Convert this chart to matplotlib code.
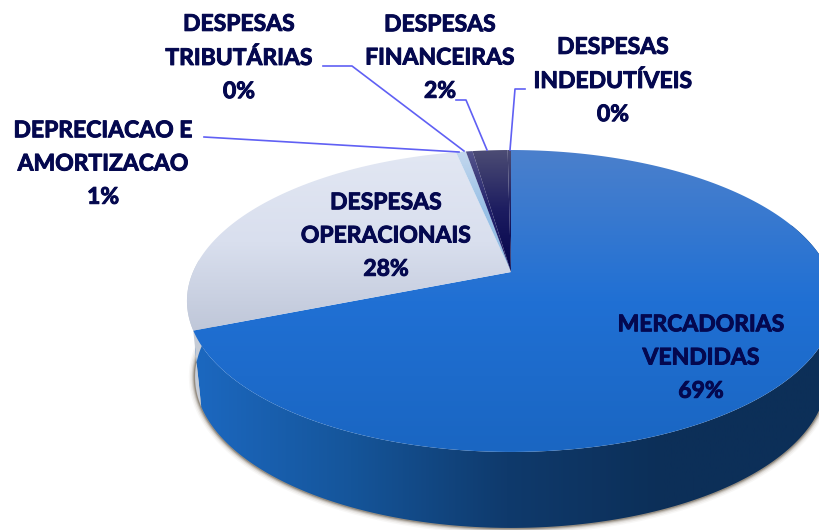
import matplotlib
matplotlib.use("Agg")
import matplotlib.pyplot as plt
from matplotlib import patheffects
from matplotlib.colors import LinearSegmentedColormap
from matplotlib.patches import Polygon
import numpy as np

plt.rcParams['font.family'] = ['Lato', 'DejaVu Sans']

names = ["MERCADORIAS\nVENDIDAS", "DESPESAS\nOPERACIONAIS", "DEPRECIACAO E\nAMORTIZACAO",
         "DESPESAS\nTRIBUTÁRIAS", "DESPESAS\nFINANCEIRAS", "DESPESAS\nINDEDUTÍVEIS"]
values = [68.9, 27.8, 0.6, 0.4, 2.1, 0.2]

# top, middle and bottom colour of each slice
face_colors = [["#4b80cc", "#2070d4", "#1a66c2"], ["#e2e7f3", "#d9dfee", "#bec6d8"],
               ["#c4d8ee", "#98c0e6", "#98c0e6"], ["#55558c", "#20206a", "#20206a"],
               ["#4c4c74", "#1c1c60", "#03034a"], ["#4c4c74", "#1c1c60", "#03034a"]]
label_pos = [(701, 358), (386, 236), (103, 164), (239, 58), (440, 58), (613, 81)]
leaders = [None, None,
           [(204, 137), (459, 152)],
           [(323, 66), (352, 66), (464, 151)],
           [(456, 100), (466, 100), (487, 150)],
           [(525, 89), (515, 89), (510, 150)]]

CX, CY = 511, 272
A, B, K = 318, 145.4, 0.192
DEPTH = 76
SHRINK = 0.975
TEXT = "#04084f"
LINE = "#6060f4"


def top_xy(theta):
    # clockwise from 12 o'clock, perspective view of the disc
    u, v = np.sin(theta), np.cos(theta)
    w = 1 + K * v
    return CX + A * u / w, CY - B * v / w


def bottom_xy(theta):
    x, y = top_xy(theta)
    return CX + SHRINK * (x - CX), y + DEPTH


def wall_band(t):
    x0, y0 = top_xy(t)
    x1, y1 = bottom_xy(t[::-1])
    return np.column_stack([np.r_[x0, x1], np.r_[y0, y1]])


fig = plt.figure(figsize=(8.19, 5.3), dpi=100)
ax = fig.add_axes([0, 0, 1, 1])

edges = np.deg2rad(np.concatenate([[0], np.cumsum(values)]) * 3.6)

# soft shadow under the wall
t = np.linspace(np.deg2rad(85), np.deg2rad(278), 300)
sx, sy = bottom_xy(t)
for lw, alpha in [(9, 0.04), (7, 0.07), (5, 0.12), (3.5, 0.2), (2, 0.35)]:
    ax.plot(sx, sy, color="#4f4230", lw=lw, alpha=alpha, solid_capstyle="round", zorder=1)

# blue wall, darkens to the right
wall_cmap = LinearSegmentedColormap.from_list(
    "wall", ["#1c68c0", "#15559a", "#0f3a6c", "#0c2f58", "#0c2f58"])
wall = Polygon(wall_band(np.linspace(np.deg2rad(70), edges[1], 200)),
               facecolor="none", edgecolor="none", zorder=2)
ax.add_patch(wall)
im = ax.imshow(np.linspace(0, 1, 256).reshape(1, -1), cmap=wall_cmap,
               extent=[195, 819, 530, 0], aspect="auto", zorder=2)
im.set_clip_path(wall)

# grey wall sliver on the left
ax.add_patch(Polygon(wall_band(np.linspace(edges[1], np.deg2rad(275), 30)),
                     facecolor="#c6ccd6", edgecolor="none", zorder=2))

# top faces, with a vertical gradient clipped to each slice
for i, colors in enumerate(face_colors):
    t = np.linspace(edges[i], edges[i + 1], 200)
    x, y = top_xy(t)
    patch = Polygon(np.column_stack([np.r_[CX, x], np.r_[CY, y]]),
                    facecolor="none", edgecolor="none", zorder=3)
    ax.add_patch(patch)
    cmap = LinearSegmentedColormap.from_list("face%d" % i, colors)
    bottom = 452 if i == 0 else (335 if i == 1 else CY)
    im = ax.imshow(np.linspace(0, 1, 256).reshape(-1, 1), cmap=cmap,
                   extent=[0, 819, bottom, 150], aspect="auto", zorder=3)
    im.set_clip_path(patch)

ax.set_xlim(0, 819)
ax.set_ylim(530, 0)
ax.axis("off")

# leader lines
for pts in leaders:
    if pts is not None:
        xs, ys = zip(*pts)
        ax.plot(xs, ys, color=LINE, lw=1.2, zorder=4)

# labels
for name, value, (x, y) in zip(names, values, label_pos):
    ax.text(x, y, "%s\n%d%%" % (name, round(value)), ha="center", va="center",
            fontsize=16.5, fontweight="bold", color=TEXT, linespacing=1.72, zorder=5,
            path_effects=[patheffects.withStroke(linewidth=0.7, foreground=TEXT)])

fig.savefig("out.png", dpi=100)
